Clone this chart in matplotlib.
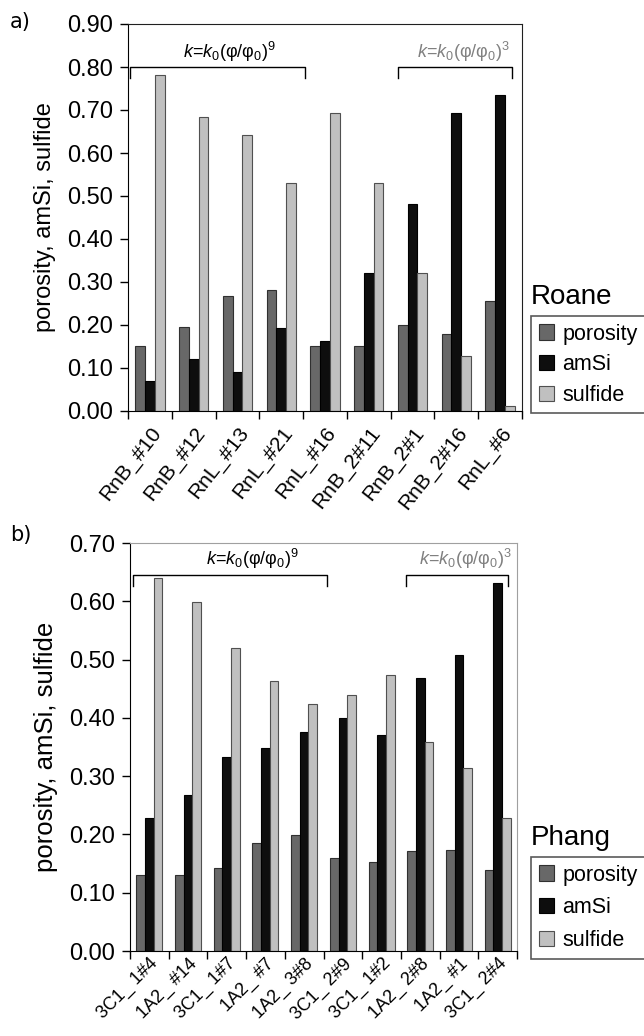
import numpy as np
import matplotlib
matplotlib.use("Agg")
import matplotlib.pyplot as plt
from matplotlib.patches import Patch

plt.rcParams['font.family'] = ['Liberation Sans', 'DejaVu Sans']
plt.rcParams['mathtext.fontset'] = 'custom'
plt.rcParams['mathtext.rm'] = 'Liberation Sans'
plt.rcParams['mathtext.it'] = 'Liberation Sans:italic'

# a) Roane
roane_samples = ["RnB_#10", "RnB_#12", "RnL_#13", "RnL_#21", "RnL_#16",
                 "RnB_2#11", "RnB_2#1", "RnB_2#16", "RnL_#6"]
roane_porosity = [0.150, 0.195, 0.267, 0.282, 0.150, 0.150, 0.201, 0.180, 0.255]
roane_amsi = [0.069, 0.121, 0.091, 0.192, 0.163, 0.321, 0.481, 0.692, 0.734]
roane_sulfide = [0.781, 0.684, 0.643, 0.530, 0.692, 0.530, 0.321, 0.129, 0.012]

# b) Phang
phang_samples = ["3C1_ 1#4", "1A2_ #14", "3C1_ 1#7", "1A2_ #7", "1A2_ 3#8",
                 "3C1_ 2#9", "3C1_ 1#2", "1A2_ 2#8", "1A2_ #1", "3C1_ 2#4"]
phang_porosity = [0.130, 0.130, 0.143, 0.185, 0.199, 0.160, 0.153, 0.171, 0.173, 0.139]
phang_amsi = [0.229, 0.268, 0.333, 0.349, 0.375, 0.400, 0.370, 0.469, 0.508, 0.631]
phang_sulfide = [0.640, 0.598, 0.520, 0.464, 0.423, 0.439, 0.473, 0.358, 0.314, 0.229]

series_names = ["porosity", "amSi", "sulfide"]
colors = ["#686868", "#0e0e0e", "#c0c0c0"]
edges = ["#303030", "#000000", "#505050"]

k9 = r"$k$=$k_0$(φ/φ$_0$)$^9$"
k3 = r"$k$=$k_0$(φ/φ$_0$)$^3$"

W, H = 644, 1036
fig = plt.figure(figsize=(W / 100, H / 100), dpi=100)


def panel(rect, samples, vals, ymax, frame_col, lab_size, xlab, br1, br2, by, ty, tx):
    ax = fig.add_axes(rect)
    n = len(samples)
    x = np.arange(n)
    w = 0.224
    for i, v in enumerate(vals):
        ax.bar(x + (i - 1) * w, v, w, color=colors[i], edgecolor=edges[i], linewidth=0.8)
    ax.set_xlim(-0.5, n - 0.5)
    ax.set_ylim(0, ymax)
    ticks = np.arange(0, ymax + 0.001, 0.1)
    ax.set_yticks(ticks)
    ax.set_yticklabels(["%.2f" % t for t in ticks], fontsize=17)
    ax.set_xticks(np.arange(n + 1) - 0.5)
    ax.set_xticklabels([])
    ax.set_xticks(x, minor=True)
    rot, fs, pad = xlab
    ax.set_xticklabels(samples, minor=True, rotation=rot, ha="right",
                       rotation_mode="anchor", fontsize=fs)
    ax.tick_params(axis="x", which="major", length=6, width=1, direction="out")
    ax.tick_params(axis="x", which="minor", length=0, pad=pad)
    ax.tick_params(axis="y", length=6, width=1, direction="out", pad=5)
    for s in ["left", "bottom"]:
        ax.spines[s].set_color("black")
    for s in ["top", "right"]:
        ax.spines[s].set_color(frame_col)
    ax.set_ylabel("porosity, amSi, sulfide", fontsize=lab_size, labelpad=8)
    # brackets for the two permeability laws
    drop = 0.025 * ymax / 0.9
    for (x0, x1), txt, col, xt in [(br1, k9, "black", tx[0]), (br2, k3, "#808080", tx[1])]:
        ax.plot([x0, x0, x1, x1], [by - drop, by, by, by - drop], color="black", lw=1)
        ax.text(xt, ty, txt, ha="center", va="bottom", fontsize=13, color=col)
    return ax


ax1 = panel([128 / W, 1 - 411 / H, 394 / W, 387 / H], roane_samples,
            [roane_porosity, roane_amsi, roane_sulfide], 0.90, "#202020", 17,
            (52, 15, 9),
            (-0.45, 3.55), (5.66, 8.27), 0.80, 0.808, (1.81, 7.15))
ax2 = panel([130 / W, 1 - 951 / H, 387 / W, 408 / H], phang_samples,
            [phang_porosity, phang_amsi, phang_sulfide], 0.70, "#a0a0a0", 18.5,
            (45, 13, 3),
            (-0.42, 4.59), (6.63, 9.27), 0.645, 0.652, (2.66, 8.16))

handles = [Patch(facecolor=colors[i], edgecolor=edges[i], linewidth=0.8) for i in range(3)]
for ypix, title, sp in [(316, "Roane", 0.45), (857, "Phang", 0.55)]:
    fig.text(531 / W, 1 - (ypix - 6) / H, title, fontsize=20, va="bottom", ha="left")
    leg = fig.legend(handles, series_names, loc="upper left",
                     bbox_to_anchor=(531 / W, 1 - ypix / H), fontsize=15.5,
                     fancybox=False, edgecolor="#303030", handlelength=0.7,
                     handleheight=0.7, handletextpad=0.4, labelspacing=sp,
                     borderpad=0.35, borderaxespad=0)
    leg.get_frame().set_linewidth(1.2)

fig.text(10 / W, 1 - 22 / H, "a)", fontsize=15, family="DejaVu Sans", va="center")
fig.text(10 / W, 1 - 535 / H, "b)", fontsize=15, family="DejaVu Sans", va="center")

fig.savefig("out.png", dpi=100)
